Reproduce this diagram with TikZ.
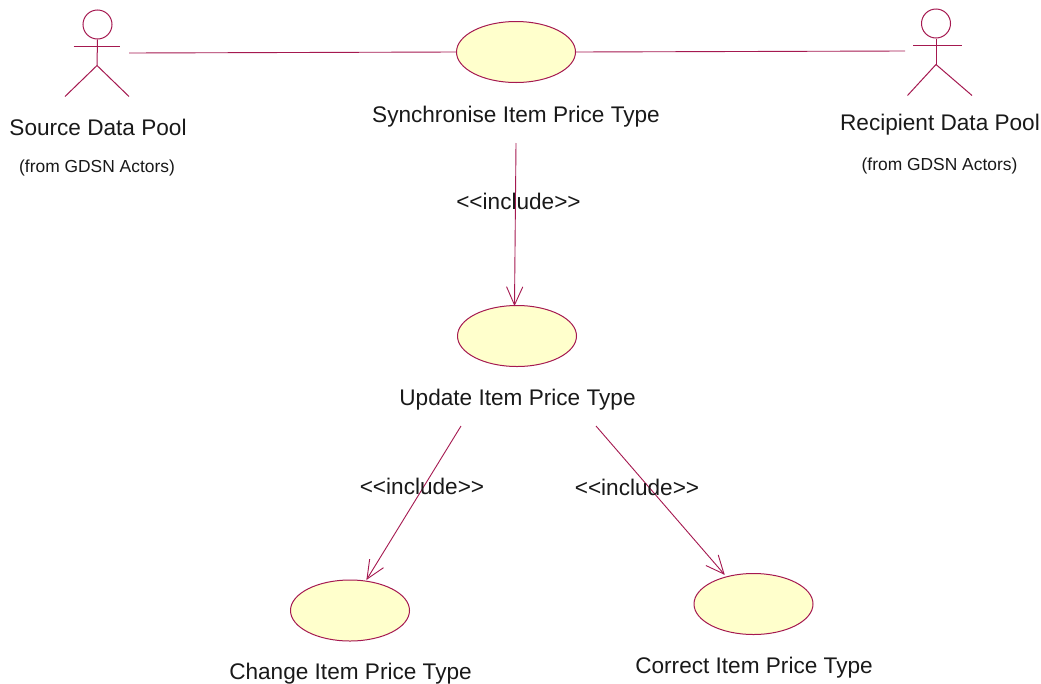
\documentclass[tikz,border=0pt]{standalone}
\usepackage{fontspec}
\setmainfont{Liberation Sans}
\usetikzlibrary{shapes.geometric,calc}
\definecolor{umlline}{RGB}{165,25,80}
\definecolor{umlfill}{RGB}{255,255,204}
\tikzset{
  usecase/.style={ellipse,draw=umlline,fill=umlfill,line width=1pt,inner sep=0pt,minimum width=119pt,minimum height=61pt},
  limb/.style={draw=umlline,line width=1pt},
  conn/.style={draw=umlline,line width=0.9pt},
  biglabel/.style={font=\fontsize{22.6}{25}\selectfont,inner sep=0pt,text=black!90},
  smalllabel/.style={font=\fontsize{17.4}{20}\selectfont,inner sep=0pt,text=black!90}
}
\newcommand{\inclarrow}[2]{%
  \draw[conn] (#1) -- (#2);
  \draw[conn,line join=miter] ($(#2)!20pt!24:(#1)$) -- (#2) -- ($(#2)!20pt!-24:(#1)$);}
\begin{document}
\begin{tikzpicture}[x=1pt,y=-1pt]
\useasboundingbox[fill=white] (0,0) rectangle (1041,683);
% use cases
\node[usecase] (sync) at (516,52) {};
\node[usecase] (upd) at (517,336) {};
\node[usecase] (chg) at (350,610.5) {};
\node[usecase] (cor) at (753.5,604) {};
% actors
\node[circle,draw=umlline,line width=1pt,inner sep=0pt,minimum size=29pt] (h1) at (97.5,24.5) {};
\coordinate (n1) at (97,65.5);
\draw[limb] (h1.south) -- (n1);
\draw[limb] (73.5,46) -- (120,46);
\draw[limb] (65,96.5) -- (n1) -- (129,96.5);
\node[circle,draw=umlline,line width=1pt,inner sep=0pt,minimum size=29pt] (h2) at (936,23.5) {};
\coordinate (n2) at (936,64.5);
\draw[limb] (h2.south) -- (n2);
\draw[limb] (913,45) -- (962,45);
\draw[limb] (907.5,95.5) -- (n2) -- (972,95.5);
% labels
\node[biglabel] (l1) at (98,127) {Source Data Pool};
\node[smalllabel] (s1) at (97,167.5) {(from GDSN Actors)};
\node[biglabel] (l2) at (940,125) {Recipient Data Pool};
\node[smalllabel] (s2) at (939.5,165.5) {(from GDSN Actors)};
\node[biglabel] (lsync) at (516,116.5) {Synchronise Item Price Type};
\node[biglabel] (lupd) at (517.5,399.5) {Update Item Price Type};
\node[biglabel] (lchg) at (350.5,674) {Change Item Price Type};
\node[biglabel] (lcor) at (754,667.5) {Correct Item Price Type};
% connector free ends
\coordinate (a1) at (129,53);
\coordinate (a2) at (905,51);
\coordinate (i1) at (516,143);
\coordinate (i2) at (461,426);
\coordinate (i3) at (596,426);
\coordinate (t1) at (514.5,305);
\coordinate (t2) at (367,579);
\coordinate (t3) at (724,574);
% connectors
\draw[conn] (a1) -- (sync.west);
\draw[conn] (sync.east) -- (a2);
\inclarrow{i1}{t1}
\inclarrow{i2}{t2}
\inclarrow{i3}{t3}
% stereotypes
\node[biglabel] (st1) at (518.5,201.5) {<{}<include>{}>};
\node[biglabel] (st2) at (422,486) {<{}<include>{}>};
\node[biglabel] (st3) at (637,487) {<{}<include>{}>};
\end{tikzpicture}
\end{document}
